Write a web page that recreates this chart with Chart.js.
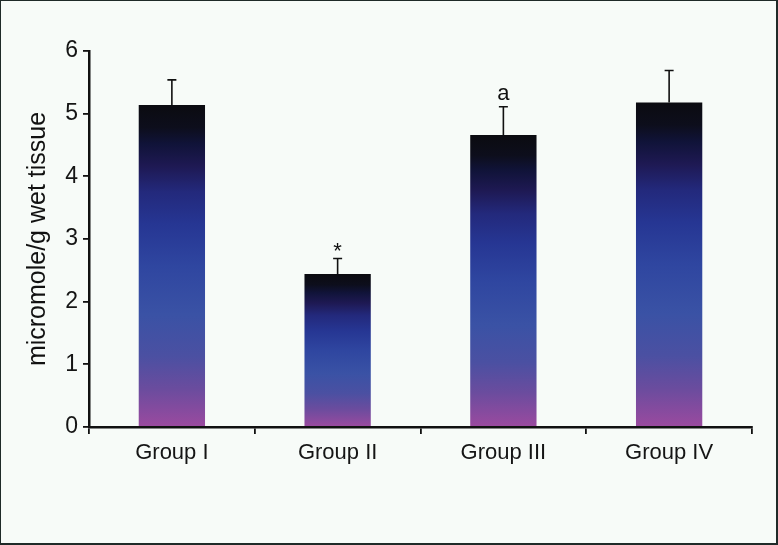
<!DOCTYPE html>
<html>
<head>
<meta charset="utf-8">
<script src="https://cdn.jsdelivr.net/npm/chart.js@4"></script>
<style>
  html, body { margin: 0; padding: 0; background: #f7fbf8; }
  #wrap { position: relative; width: 778px; height: 545px; }
</style>
</head>
<body>
<div id="wrap"><canvas id="chart"></canvas></div>
<script>
// ── Data ───────────────────────────────────────────────────────
const groups = ["Group I", "Group II", "Group III", "Group IV"];
const means  = [5.14, 2.44, 4.66, 5.18];
const sems   = [0.40, 0.25, 0.45, 0.51];
const marks  = ["", "*", "a", ""];
const yTicks = [0, 1, 2, 3, 4, 5, 6];

const FONT = "'Liberation Sans', Arial, sans-serif";
const INK  = "#111111";

// gradient per bar: black at top -> navy -> blue -> magenta at bottom
const stops = [
  [0.00, "#0b0b10"], [0.07, "#0d0e1c"], [0.12, "#101338"], [0.19, "#1e1953"],
  [0.27, "#23297c"], [0.37, "#263693"], [0.50, "#2f46a0"], [0.65, "#3a52a5"],
  [0.78, "#4b50a2"], [0.88, "#6a4c9e"], [1.00, "#9b4a9f"],
];

function barFill(c) {
  const chart = c.chart, y = chart.scales.y;
  if (!y || c.dataIndex === undefined) return "#2f46a0";
  const top = y.getPixelForValue(means[c.dataIndex]);
  const bot = y.getPixelForValue(0);
  if (!isFinite(top) || !isFinite(bot) || top === bot) return "#2f46a0";
  const g = chart.ctx.createLinearGradient(0, top, 0, bot);
  stops.forEach(([p, col]) => g.addColorStop(p, col));
  return g;
}

// ── Frame + background ─────────────────────────────────────────
const framePlugin = {
  id: "frame",
  beforeDraw(chart) {
    const { ctx, width, height } = chart;
    ctx.save();
    ctx.fillStyle = "#f7fbf8";
    ctx.fillRect(0, 0, width, height);
    ctx.fillStyle = "#1f2a28";
    ctx.fillRect(0, 0, width, 1);          // top
    ctx.fillRect(0, 0, 1, height);         // left
    ctx.fillRect(width - 2, 0, 2, height); // right
    ctx.fillRect(0, height - 2, width, 2); // bottom
    ctx.restore();
  },
};

// ── Error bars (upper only) + significance marks ───────────────
const errorPlugin = {
  id: "errors",
  afterDatasetsDraw(chart) {
    const { ctx } = chart;
    const meta = chart.getDatasetMeta(0);
    const y = chart.scales.y;
    ctx.save();
    ctx.strokeStyle = INK;
    ctx.lineWidth = 1.6;
    meta.data.forEach((bar, i) => {
      const x = bar.x;
      const yTop = y.getPixelForValue(means[i]);
      const yErr = y.getPixelForValue(means[i] + sems[i]);
      ctx.beginPath();
      ctx.moveTo(x, yTop);
      ctx.lineTo(x, yErr);
      ctx.moveTo(x - 4.5, yErr);
      ctx.lineTo(x + 4.5, yErr);
      ctx.stroke();

      if (marks[i]) {
        ctx.font = `22px ${FONT}`;
        ctx.fillStyle = INK;
        ctx.textAlign = "center";
        ctx.textBaseline = "alphabetic";
        const m = ctx.measureText(marks[i]);
        ctx.fillText(marks[i], x, yErr - 7 - m.actualBoundingBoxDescent);
      }
    });
    ctx.restore();
  },
};

// ── Chart ──────────────────────────────────────────────────────
const chart = new Chart(document.getElementById("chart"), {
  type: "bar",
  data: {
    labels: groups,
    datasets: [{
      data: means,
      backgroundColor: barFill,
      borderWidth: 0,
      barPercentage: 0.40,
      categoryPercentage: 1.0,
    }],
  },
  options: {
    responsive: true,
    maintainAspectRatio: false,
    animation: false,
    events: [],
    layout: { padding: { left: 0, right: 26, top: 51, bottom: 0 } },
    plugins: {
      legend: { display: false },
      tooltip: { enabled: false },
    },
    scales: {
      x: {
        offset: true,
        grid: {
          offset: true,
          drawOnChartArea: false,
          drawTicks: true,
          tickLength: 7,
          color: INK,
          lineWidth: 1.8,
        },
        border: { display: true, color: INK, width: 2.5 },
        ticks: { color: "#151515", font: { family: FONT, size: 22 }, padding: 6 },
        afterFit: (s) => { s.height = 118; },
      },
      y: {
        min: 0,
        max: 6,
        afterBuildTicks: (s) => { s.ticks = yTicks.map((v) => ({ value: v })); },
        grid: {
          drawOnChartArea: false,
          drawTicks: true,
          tickLength: 6,
          color: INK,
          lineWidth: 1.8,
        },
        border: { display: true, color: INK, width: 2.5 },
        ticks: { color: "#151515", font: { family: FONT, size: 23 }, padding: 5 },
        title: {
          display: true,
          text: "micromole/g wet tissue",
          color: "#111",
          font: { family: FONT, size: 25 },
          padding: { top: 23, bottom: 0 },
        },
        afterFit: (s) => { s.width = 89; },
      },
    },
  },
  plugins: [framePlugin, errorPlugin],
});
// scales are ready now: refresh so each bar gets its own gradient
chart.update("none");
</script>
</body>
</html>
